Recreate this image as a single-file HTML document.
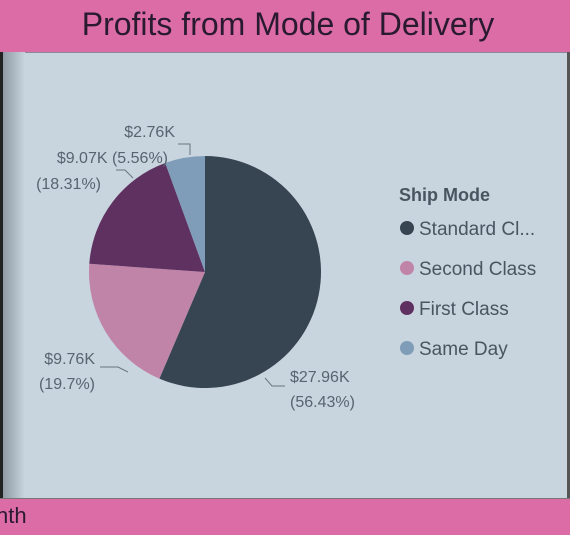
<!DOCTYPE html>
<html><head><meta charset="utf-8"><style>
body{margin:0;width:570px;height:534px;overflow:hidden;background:#c8d4de;font-family:"Liberation Sans",sans-serif;position:relative}
#hdr{position:absolute;left:0;top:0;width:570px;height:52px;background:#dc6ca6;border-bottom:1px solid #8a8a9a}
#hdr span{position:absolute;left:0;width:576px;top:6px;text-align:center;font-size:32px;color:#2a1a30}
#ftr{position:absolute;left:0;top:498px;width:570px;height:36px;background:#dc6ca6;border-top:1px solid #777}
#ftr span{position:absolute;left:-4px;top:4px;font-size:22px;color:#2a1a30}
#ledge{position:absolute;left:0;top:52px;width:3px;height:446px;background:#222}
#shadow{position:absolute;left:3px;top:52px;width:22px;height:446px;background:linear-gradient(to right,#8f9aa4,#c8d4de)}
#redge{position:absolute;left:567px;top:52px;width:3px;height:446px;background:#555}
</style></head><body>
<div id="hdr"><span>Profits from Mode of Delivery</span></div>
<div id="ledge"></div>
<div id="shadow"></div>
<div id="redge"></div>
<div id="ftr"><span>nth</span></div>
<svg id="chart" width="570" height="534" style="position:absolute;left:0;top:0"></svg>
<script>
const categories=["Standard Class","Second Class","First Class","Same Day"];
const values=[27.96,9.76,9.07,2.76];
const valueLabels=["$27.96K","$9.76K","$9.07K","$2.76K"];
const pctLabels=["(56.43%)","(19.7%)","(18.31%)","(5.56%)"];
const legendLabels=["Standard Cl...","Second Class","First Class","Same Day"];
const colors=["#374552","#c084a8","#5f3160","#7f9db8"];
const NS="http://www.w3.org/2000/svg";
const svg=document.getElementById('chart');
const cx=205,cy=272,r=116;
const total=values.reduce((a,b)=>a+b,0);
function pt(a,rad){return [cx+rad*Math.sin(a),cy-rad*Math.cos(a)];}
function mk(t,attrs){const e=document.createElementNS(NS,t);for(const k in attrs)e.setAttribute(k,attrs[k]);svg.appendChild(e);return e;}
let a0=0;
values.forEach((v,i)=>{
  const a1=a0+v/total*2*Math.PI;
  const p0=pt(a0,r),p1=pt(a1,r);
  const large=(a1-a0)>Math.PI?1:0;
  const p=mk('path',{d:`M${cx},${cy}L${p0[0]},${p0[1]}A${r},${r} 0 ${large} 1 ${p1[0]},${p1[1]}Z`,fill:colors[i]});
  
  
  a0=a1;
});
const lab=[
 {x:290,y:382,anchor:"start",line:"M265,378 L272,386 L285,386"},
 {x:95,y:364,anchor:"end",line:"M128,372 L118,367 L100,367"},
 {x:100,y:163,anchor:"end",line:"M133,178 L125,170 L116,170"},
 {x:170,y:135,anchor:"end",line:"M190,155 L190,144 L178,144"}
];
lab.forEach((L,i)=>{
  const ln=mk('path',{d:L.line,stroke:"#6a7580",fill:"none","stroke-width":1});
  
  
  const style={fill:"#5a6470","font-size":"16px","text-anchor":L.anchor};
  if(i===2){
    let t=mk('text',Object.assign({},style,{x:168,y:163}));t.textContent=valueLabels[2]+" "+pctLabels[3];
    
    t=mk('text',Object.assign({},style,{x:101,y:189}));t.textContent=pctLabels[2];
    
  }else if(i===3){
    const t=mk('text',Object.assign({},style,{x:175,y:137}));t.textContent=valueLabels[3];
    
  }else{
    let t=mk('text',Object.assign({},style,{x:L.x,y:L.y}));t.textContent=valueLabels[i];
    
    t=mk('text',Object.assign({},style,{x:L.x+(L.anchor==="start"?0:0),y:L.y+25}));t.textContent=pctLabels[i];
    
  }
});
const lt=mk('text',{x:399,y:201,fill:"#4a5560","font-size":"18px","font-weight":"bold"});
lt.textContent="Ship Mode";


legendLabels.forEach((s,i)=>{
  const y=228+i*40;
  const c=mk('circle',{cx:407,cy:y,r:7,fill:colors[i]});
  
  
  const t=mk('text',{x:419,y:y+7,fill:"#4a5560","font-size":"19px"});
  t.textContent=s;
  
  
});
</script>
</body></html>
